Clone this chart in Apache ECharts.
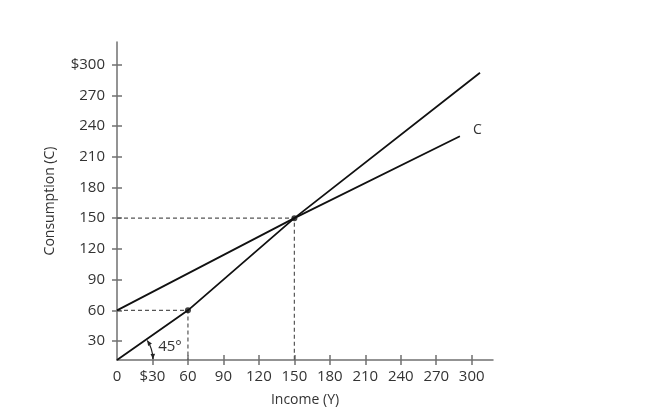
<!DOCTYPE html>
<html><head><meta charset="utf-8">
<script src="https://cdn.jsdelivr.net/npm/echarts@6/dist/echarts.min.js"></script>
<style>html,body{margin:0;padding:0;background:#fff}#c{width:653px;height:413px}</style>
</head><body><div id="c"></div>
<script>
// Axis ranges
const xMin = 0, xMax = 318, yMin = 11.5, yMax = 322;
const xTickValues = [0, 30, 60, 90, 120, 150, 180, 210, 240, 270, 300];
const xLabelText = ['0', '$30', '60', '90', '120', '150', '180', '210', '240', '270', '300'];
const yTickValues = [30, 60, 90, 120, 150, 180, 210, 240, 270, 300];
const yLabelText = ['30', '60', '90', '120', '150', '180', '210', '240', '270', '$300'];

// Series data
const consumptionLine = [[0, 60], [150, 150], [290, 230]];
const fortyFiveLine = [[0, 11.5], [60, 60], [150, 150], [307, 292]];
const markedPoints = [[60, 60], [150, 150]];
const guide150 = [[0, 150], [150, 150], [150, 11.5]];
const guide60 = [[0, 60], [60, 60], [60, 11.5]];
const angleMark = [[0, 11.5, 60, 60]];

const FONT = 'Open Sans';
const TXT = '#333';
const AX = '#707070';

const chart = echarts.init(document.getElementById('c'), null, {renderer: 'canvas'});

function lbl(values, texts) {
  return function (v) {
    const i = values.indexOf(v);
    return i >= 0 ? texts[i] : '';
  };
}

const xBase = {
  type: 'value', min: xMin, max: xMax, position: 'bottom', splitLine: {show: false}
};
const yBase = {
  type: 'value', min: yMin, max: yMax, position: 'left', splitLine: {show: false}
};

chart.setOption({
  animation: false,
  grid: {left: 117, top: 42, right: 160, bottom: 53, containLabel: false},
  xAxis: [
    Object.assign({}, xBase, {
      name: 'Income (Y)', nameLocation: 'middle', nameGap: 33,
      nameTextStyle: {fontFamily: FONT, fontSize: 14, color: TXT},
      axisLine: {show: true, lineStyle: {color: AX, width: 1.5}},
      axisTick: {show: true, length: 5, inside: false, customValues: xTickValues.slice(1), lineStyle: {color: AX, width: 1.5}},
      axisLabel: {show: true, customValues: xTickValues, formatter: lbl(xTickValues, xLabelText), margin: 9,
        fontFamily: FONT, fontSize: 15, color: TXT}
    }),
    Object.assign({}, xBase, {
      axisLine: {show: false},
      axisTick: {show: true, length: 5, inside: true, customValues: xTickValues.slice(1), lineStyle: {color: AX, width: 1.5}},
      axisLabel: {show: false}
    })
  ],
  yAxis: [
    Object.assign({}, yBase, {
      name: 'Consumption (C)', nameLocation: 'middle', nameGap: 60, nameRotate: 90,
      nameTextStyle: {fontFamily: FONT, fontSize: 14, color: TXT, padding: [0, 0, 0, 0]},
      axisLine: {show: true, lineStyle: {color: AX, width: 1.5}},
      axisTick: {show: true, length: 5, inside: false, customValues: yTickValues, lineStyle: {color: AX, width: 1.5}},
      axisLabel: {show: true, customValues: yTickValues, formatter: lbl(yTickValues, yLabelText), margin: 12,
        fontFamily: FONT, fontSize: 15, color: TXT}
    }),
    Object.assign({}, yBase, {
      axisLine: {show: false},
      axisTick: {show: true, length: 5, inside: true, customValues: yTickValues, lineStyle: {color: AX, width: 1.5}},
      axisLabel: {show: false}
    })
  ],
  series: [
    {type: 'line', data: guide150, symbol: 'none', z: 1,
      lineStyle: {color: '#555', width: 1.2, type: [4, 3]}},
    {type: 'line', data: guide60, symbol: 'none', z: 1,
      lineStyle: {color: '#555', width: 1.2, type: [4, 3]}},
    {type: 'line', data: fortyFiveLine, symbol: 'none', z: 3,
      lineStyle: {color: '#111', width: 1.8}},
    {type: 'line', data: consumptionLine, symbol: 'none', z: 3,
      lineStyle: {color: '#111', width: 1.8},
      endLabel: {show: true, formatter: 'C', offset: [5, -6], fontFamily: FONT, fontSize: 14, color: TXT}},
    {type: 'scatter', data: markedPoints, symbol: 'circle', symbolSize: 6, z: 5,
      itemStyle: {color: '#111'}},
    {type: 'custom', data: angleMark, z: 4, encode: {x: [0, 2], y: [1, 3]},
      renderItem: function (params, api) {
        const o = api.coord([api.value(0), api.value(1)]);
        const p = api.coord([api.value(2), api.value(3)]);
        const r = 36;
        const a0 = Math.atan2(p[1] - o[1], p[0] - o[0]) + 0.04;
        const a1 = -0.03;
        function head(th, dir) {
          const tip = [o[0] + r * Math.cos(th), o[1] + r * Math.sin(th)];
          const t = [-Math.sin(th) * dir, Math.cos(th) * dir];
          const b = [tip[0] - t[0] * 5, tip[1] - t[1] * 5];
          const n = [-t[1], t[0]];
          return {type: 'polygon', shape: {points: [tip, [b[0] + n[0] * 2.3, b[1] + n[1] * 2.3], [b[0] - n[0] * 2.3, b[1] - n[1] * 2.3]]},
            style: {fill: '#222'}};
        }
        return {type: 'group', children: [
          {type: 'arc', shape: {cx: o[0], cy: o[1], r: r, startAngle: a0, endAngle: a1, clockwise: true},
            style: {stroke: '#222', fill: null, lineWidth: 1.2}},
          head(a0, -1), head(a1, 1),
          {type: 'text', x: o[0] + 53, y: o[1] - 13,
            style: {text: '45°', fontFamily: FONT, fontSize: 15, fill: TXT, align: 'center', verticalAlign: 'middle'}}
        ]};
      }}
  ]
});
</script></body></html>
